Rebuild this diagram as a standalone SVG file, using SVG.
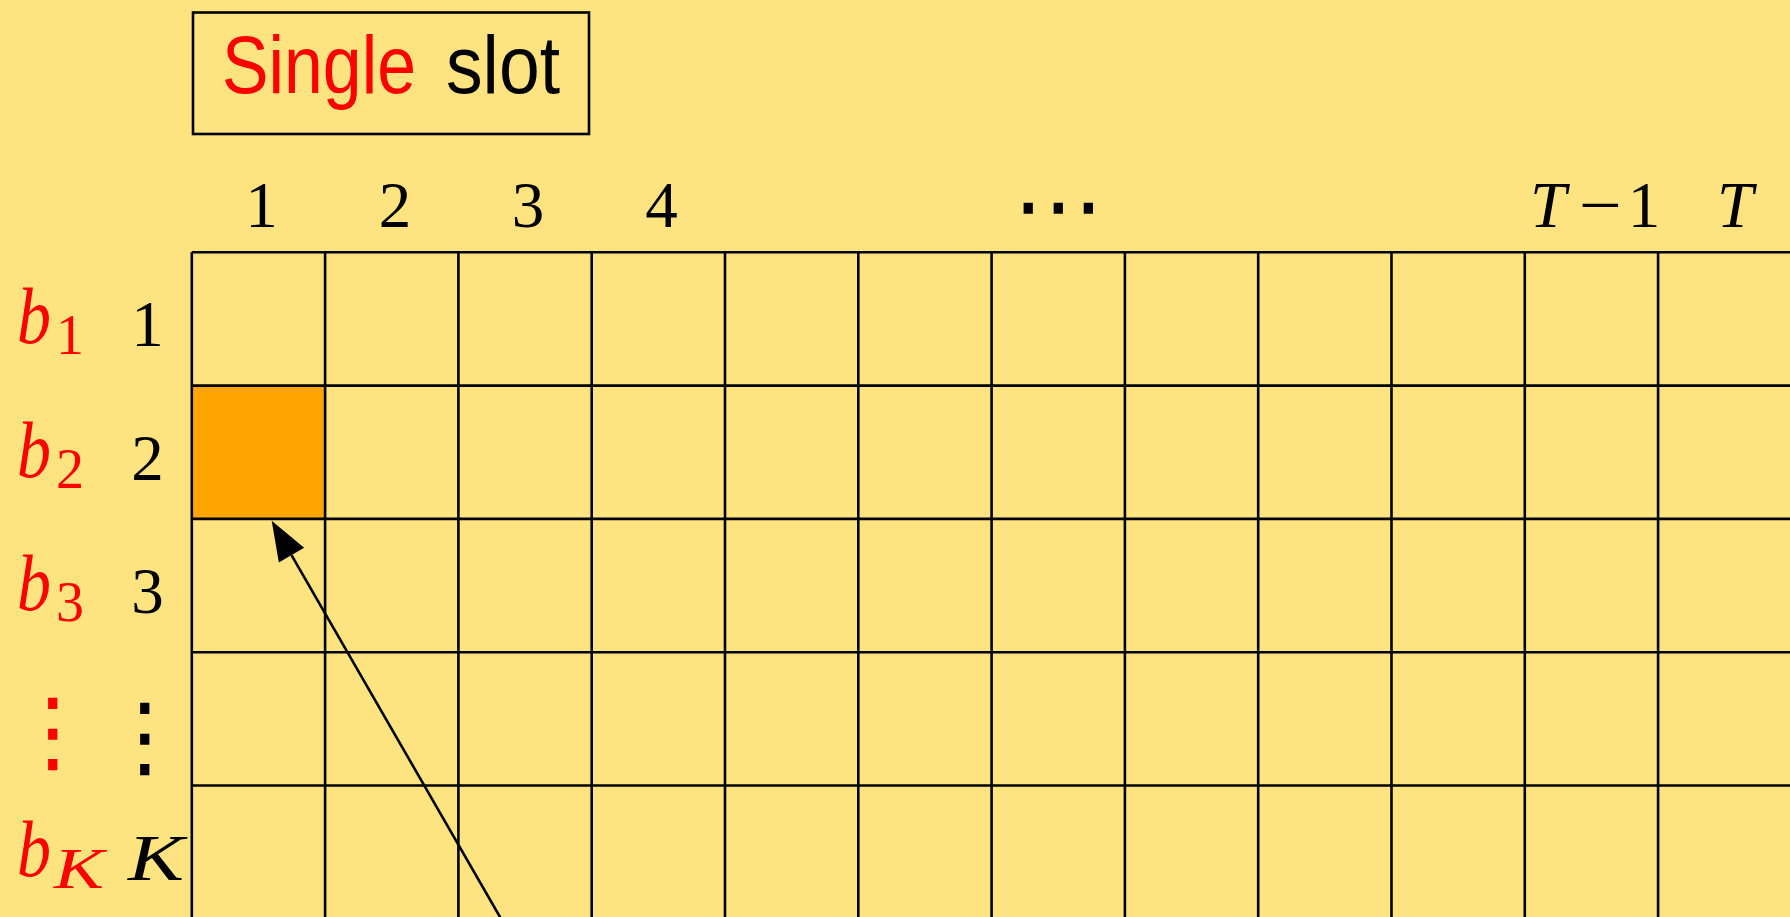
<svg xmlns="http://www.w3.org/2000/svg" width="1790" height="917" viewBox="0 0 1790 917">
<style>
.bg{fill:#FEE480}
.grid{stroke:#000;stroke-width:2.6;fill:none}
.num{font-family:"Liberation Serif",serif;font-size:65px;fill:#000}
.it{font-style:italic}
.red{fill:#FF0000}
.b{font-family:"Liberation Serif",serif;font-size:80px;font-style:italic;fill:#FF0000}
.sub{font-size:56px;font-style:normal}
.subit{font-size:56px;font-style:italic}
.dots{font-family:"DejaVu Sans",sans-serif;font-size:90px}
.title{font-family:"Liberation Sans",sans-serif;font-size:81px}
.conn{stroke:#000;stroke-width:2.6;fill:none}
</style>
<defs>
<marker id="arr" markerUnits="userSpaceOnUse" viewBox="-1 -16 43 32" markerWidth="43" markerHeight="32" refX="0" refY="0" orient="auto">
<path d="M0,-14.6 L39.7,0 L0,14.6 z" fill="#000"/>
</marker>
</defs>
<rect class="bg" x="0" y="0" width="1790" height="917"/>

<g id="title">
<rect x="193" y="12.5" width="396" height="121.5" fill="none" stroke="#000" stroke-width="2.6"/>
<text class="title red" x="222" y="93.3" textLength="194" lengthAdjust="spacingAndGlyphs">Single</text>
<text class="title" x="446" y="93.3" textLength="114" lengthAdjust="spacingAndGlyphs">slot</text>
</g>

<g id="column-headers">
<text class="num" x="261.5" y="226.7" text-anchor="middle">1</text>
<text class="num" x="395" y="226.7" text-anchor="middle">2</text>
<text class="num" x="528" y="226.7" text-anchor="middle">3</text>
<text class="num" x="661.5" y="226.7" text-anchor="middle">4</text>
<text class="num dots" x="1058" y="236" text-anchor="middle">⋯</text>
<text class="num it" x="1548" y="226.7" text-anchor="middle">T</text>
<text class="num" x="1579" y="226.7" textLength="43" lengthAdjust="spacingAndGlyphs">−</text>
<text class="num" x="1644" y="226.7" text-anchor="middle">1</text>
<text class="num it" x="1735" y="226.7" text-anchor="middle">T</text>
</g>

<g id="row-labels">
<text class="b" x="17" y="343.4"><tspan textLength="34" lengthAdjust="spacingAndGlyphs">b</tspan><tspan class="sub" x="56" y="354.4">1</tspan></text>
<text class="num" x="147.5" y="346" text-anchor="middle">1</text>
<text class="b" x="17" y="476.7"><tspan textLength="34" lengthAdjust="spacingAndGlyphs">b</tspan><tspan class="sub" x="56" y="487.7">2</tspan></text>
<text class="num" x="147.5" y="479.5" text-anchor="middle">2</text>
<text class="b" x="17" y="610"><tspan textLength="34" lengthAdjust="spacingAndGlyphs">b</tspan><tspan class="sub" x="56" y="621">3</tspan></text>
<text class="num" x="147.5" y="612.8" text-anchor="middle">3</text>
<text class="dots red" x="53" y="762" text-anchor="middle">⋮</text>
<text class="dots" x="145" y="767" text-anchor="middle">⋮</text>
<text class="b" x="17" y="876.4"><tspan textLength="34" lengthAdjust="spacingAndGlyphs">b</tspan><tspan class="subit" x="54" y="888" textLength="50" lengthAdjust="spacingAndGlyphs">K</tspan></text>
<text class="num it" x="128" y="879.5" textLength="56" lengthAdjust="spacingAndGlyphs">K</text>
</g>

<g id="highlight-cell">
<rect x="191.8" y="385.6" width="133.3" height="133.3" fill="#FFA500"/>
</g>

<g id="grid">
<path class="grid" d="M191.8,252.3H1790M191.8,385.6H1790M191.8,518.9H1790M191.8,652.2H1790M191.8,785.5H1790
M191.8,252.3V917M325.1,252.3V917M458.4,252.3V917M591.7,252.3V917M725,252.3V917M858.3,252.3V917M991.6,252.3V917M1124.9,252.3V917M1258.2,252.3V917M1391.5,252.3V917M1524.8,252.3V917M1658.1,252.3V917"/>
</g>

<g id="connectors">
<line class="conn" x1="507.5" y1="930" x2="291.5" y2="555.1" marker-end="url(#arr)"/>
</g>
</svg>
